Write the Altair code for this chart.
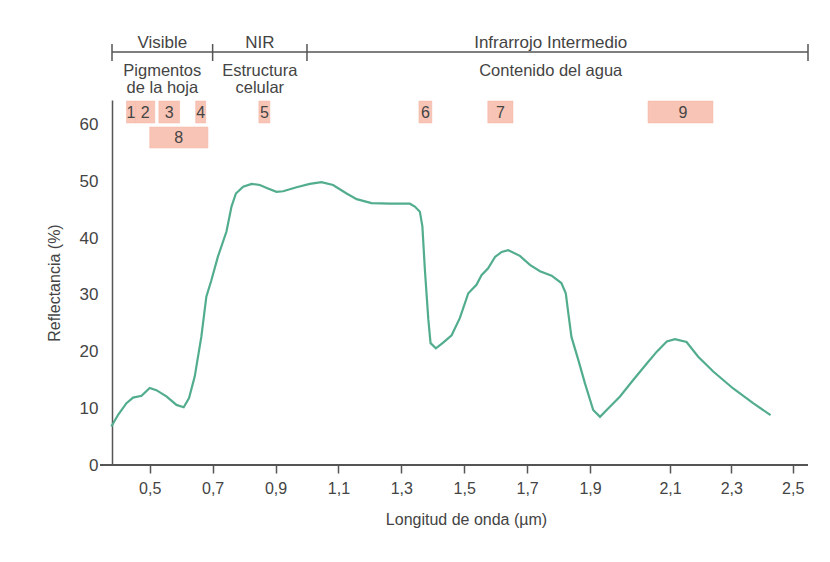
import altair as alt
import pandas as pd

# --- Spectral reflectance curve ---
wavelength = [0.378, 0.40, 0.426, 0.447, 0.474, 0.50, 0.521, 0.553, 0.585, 0.608, 0.625,
              0.643, 0.664, 0.680, 0.696, 0.717, 0.744, 0.760, 0.774, 0.797, 0.824,
              0.850, 0.876, 0.903, 0.924, 0.967, 1.009, 1.046, 1.083, 1.126, 1.158,
              1.205, 1.264, 1.327, 1.343, 1.359, 1.367, 1.375, 1.386, 1.393, 1.410,
              1.433, 1.460, 1.486, 1.513, 1.539, 1.555, 1.576, 1.598, 1.619, 1.640,
              1.677, 1.709, 1.741, 1.778, 1.809, 1.823, 1.831, 1.841, 1.863, 1.884,
              1.908, 1.925, 1.946, 1.975, 2.008, 2.042, 2.067, 2.092, 2.116, 2.154,
              2.192, 2.241, 2.306, 2.371, 2.428]
reflectance = [6.8, 8.9, 10.9, 11.9, 12.2, 13.6, 13.2, 12.1, 10.6, 10.2, 11.8,
               15.6, 22.6, 29.7, 32.6, 36.8, 41.2, 45.6, 47.9, 49.1, 49.6,
               49.4, 48.8, 48.2, 48.3, 49.0, 49.6, 49.9, 49.4, 47.9, 46.9,
               46.2, 46.1, 46.1, 45.6, 44.7, 42.1, 34.4, 25.6, 21.5, 20.6,
               21.6, 22.9, 25.9, 30.3, 31.8, 33.5, 34.7, 36.7, 37.6, 37.9,
               36.9, 35.3, 34.2, 33.4, 32.1, 30.3, 26.8, 22.6, 18.5, 14.4,
               9.7, 8.5, 10.0, 12.1, 15.0, 17.9, 20.0, 21.8, 22.2, 21.7,
               19.1, 16.5, 13.5, 10.9, 8.8]

x_ticks = [0.5, 0.7, 0.9, 1.1, 1.3, 1.5, 1.7, 1.9, 2.1, 2.3, 2.5]
y_ticks = [0, 10, 20, 30, 40, 50, 60]

# --- Spectral regions ---
region_names = ["Visible", "NIR", "Infrarrojo Intermedio"]
region_start = [0.38, 0.70, 1.00]
region_end = [0.70, 1.00, 2.55]
region_line1 = ["Pigmentos", "Estructura", "Contenido del agua"]
region_line2 = ["de la hoja", "celular", ""]

# --- Sensor bands ---
band_row1_labels = ["1", "2", "3", "4", "5", "6", "7", "9"]
band_row1_start = [0.426, 0.455, 0.529, 0.646, 0.847, 1.356, 1.575, 2.045]
band_row1_end = [0.455, 0.516, 0.595, 0.678, 0.882, 1.397, 1.655, 2.240]
band_row2_labels = ["8"]
band_row2_start = [0.500]
band_row2_end = [0.685]

curve = pd.DataFrame({"w": wavelength, "r": reflectance})
regions = pd.DataFrame({"name": region_names, "start": region_start, "end": region_end,
                        "l1": region_line1, "l2": region_line2})
regions["mid"] = (regions["start"] + regions["end"]) / 2
bounds = pd.DataFrame({"b": sorted(set(region_start + region_end))})
row1 = pd.DataFrame({"lab": band_row1_labels, "s": band_row1_start, "e": band_row1_end})
row1["m"] = (row1["s"] + row1["e"]) / 2
row2 = pd.DataFrame({"lab": band_row2_labels, "s": band_row2_start, "e": band_row2_end})
row2["m"] = (row2["s"] + row2["e"]) / 2

FONT = "Liberation Sans"
GRAY = "#555555"
TXT = "#444444"
W, H = 696, 365

xscale = alt.Scale(domain=[0.38, 1.9, 2.1, 2.55], range=[0, 478, 558, W], nice=False)
yscale = alt.Scale(domain=[0, 64.4], nice=False, zero=True)

xaxis = alt.Axis(values=x_ticks, labelExpr="replace(format(datum.value, '.1f'), '.', ',')",
                 domain=False, tickSize=8, tickColor=GRAY, tickWidth=1.5, labelPadding=7,
                 labelFontSize=16, labelColor=TXT, labelFont=FONT, grid=False,
                 title="Longitud de onda (µm)", titleFont=FONT, titleFontSize=16,
                 titleFontWeight="normal", titleColor=TXT, titlePadding=15,
                 titleX=354, titleAlign="center")
yaxis = alt.Axis(values=y_ticks, ticks=False, domainColor=GRAY, domainWidth=1.5,
                 labelPadding=14, labelFontSize=17, labelColor=TXT, labelFont=FONT, grid=False,
                 title="Reflectancia (%)", titleFont=FONT, titleFontSize=16,
                 titleFontWeight="normal", titleColor=TXT, titlePadding=17)

line = alt.Chart(curve).mark_line(color="#52ad8d", strokeWidth=2.2).encode(
    x=alt.X("w:Q", scale=xscale, axis=xaxis),
    y=alt.Y("r:Q", scale=yscale, axis=yaxis),
)

xaxis_line = alt.Chart(curve).mark_rule(color=GRAY, strokeWidth=1.5).encode(
    x=alt.value(-12), x2=alt.value(W), y=alt.value(H)
)

bracket = alt.Chart(regions).mark_rule(color=GRAY, strokeWidth=1.5).encode(
    x=alt.X("start:Q", scale=xscale), x2="end:Q", y=alt.value(-48)
)
bracket_ticks = alt.Chart(bounds).mark_rule(color=GRAY, strokeWidth=1.5).encode(
    x=alt.X("b:Q", scale=xscale), y=alt.value(-56), y2=alt.value(-39)
)
region_title = alt.Chart(regions).mark_text(font=FONT, fontSize=17, color=TXT,
                                            baseline="middle").encode(
    x=alt.X("mid:Q", scale=xscale), y=alt.value(-57), text="name:N"
)
region_l1 = alt.Chart(regions).mark_text(font=FONT, fontSize=16.5, color=TXT,
                                         baseline="middle").encode(
    x=alt.X("mid:Q", scale=xscale), y=alt.value(-29), text="l1:N"
)
region_l2 = alt.Chart(regions).mark_text(font=FONT, fontSize=16.5, color=TXT,
                                         baseline="middle").encode(
    x=alt.X("mid:Q", scale=xscale), y=alt.value(-12), text="l2:N"
)

box1 = alt.Chart(row1).mark_rect(fill="#f8c4b5", stroke="#f5b5a4", strokeWidth=0.5).encode(
    x=alt.X("s:Q", scale=xscale), x2="e:Q", y=alt.value(1), y2=alt.value(23)
)
box1_txt = alt.Chart(row1).mark_text(font=FONT, fontSize=16, color=TXT,
                                     baseline="middle").encode(
    x=alt.X("m:Q", scale=xscale), y=alt.value(12.5), text="lab:N"
)
box2 = alt.Chart(row2).mark_rect(fill="#f8c4b5", stroke="#f5b5a4", strokeWidth=0.5).encode(
    x=alt.X("s:Q", scale=xscale), x2="e:Q", y=alt.value(27), y2=alt.value(48)
)
box2_txt = alt.Chart(row2).mark_text(font=FONT, fontSize=16, color=TXT,
                                     baseline="middle").encode(
    x=alt.X("m:Q", scale=xscale), y=alt.value(38), text="lab:N"
)

chart = alt.layer(
    box1, box2, box1_txt, box2_txt, bracket, bracket_ticks,
    region_title, region_l1, region_l2, xaxis_line, line
).properties(
    width=W, height=H,
    autosize=alt.AutoSizeParams(type="none"),
    padding={"left": 112, "top": 100, "right": 22, "bottom": 97},
    background="white",
).configure_view(stroke=None)

chart.save("out.html", embed_options={"renderer": "svg", "actions": False})
